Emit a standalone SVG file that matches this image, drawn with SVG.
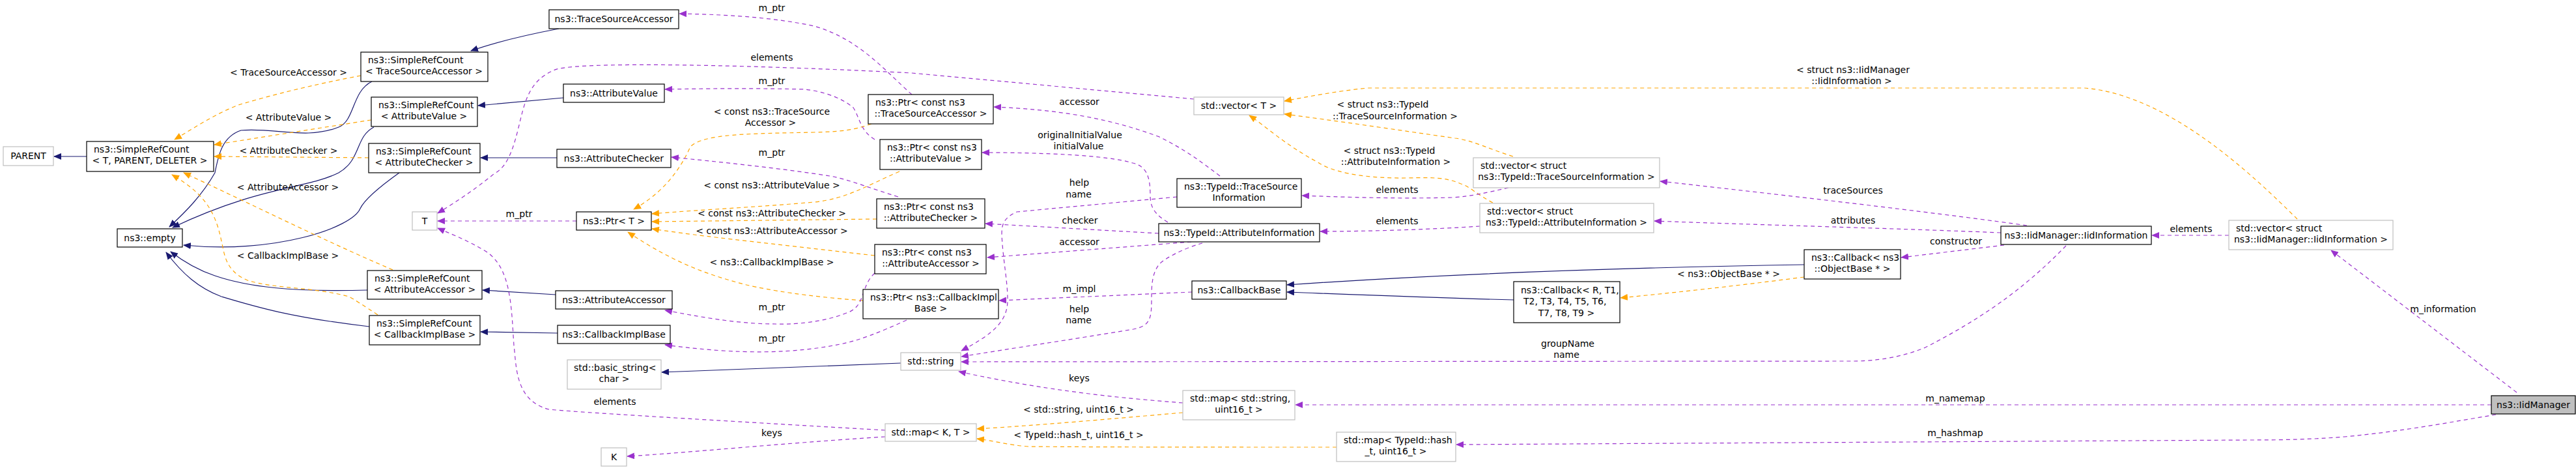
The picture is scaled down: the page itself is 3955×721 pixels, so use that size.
<svg xmlns="http://www.w3.org/2000/svg" width="3955" height="721" viewBox="0 0 3955 721">
<style>
text{font-family:"DejaVu Sans","Liberation Sans",sans-serif;font-size:14px;fill:#000}
.c{text-anchor:middle}
.n rect{fill:#fff;stroke:#000;stroke-width:1.2}
.g rect{fill:#fff;stroke:#bfbfbf;stroke-width:1.2}
.inh{fill:none;stroke:#191970;stroke-width:1.2;marker-end:url(#mb)}
.tpl{fill:none;stroke:#ffa500;stroke-width:1.2;stroke-dasharray:6,5;marker-end:url(#mo)}
.use{fill:none;stroke:#9a32cd;stroke-width:1.2;stroke-dasharray:6,5;marker-end:url(#mp)}
</style>
<defs>
<marker id="mb" markerWidth="12" markerHeight="10" refX="11" refY="5" orient="auto" markerUnits="userSpaceOnUse"><path d="M0,0 L12,5 L0,10 z" fill="#191970"/></marker>
<marker id="mo" markerWidth="12" markerHeight="10" refX="11" refY="5" orient="auto" markerUnits="userSpaceOnUse"><path d="M0,0 L12,5 L0,10 z" fill="#ffa500"/></marker>
<marker id="mp" markerWidth="12" markerHeight="10" refX="11" refY="5" orient="auto" markerUnits="userSpaceOnUse"><path d="M0,0 L12,5 L0,10 z" fill="#9a32cd"/></marker>
</defs>
<rect width="3955" height="721" fill="#fff"/>
<g id="connectors">
<path class="inh" d="M133,240 L83,240"/>
<path class="inh" d="M571,125 C540,140 545,185 520,195 C470,215 420,195 370,200 C340,210 335,240 330,265 C310,300 285,325 260,348"/>
<path class="inh" d="M574,195 C545,210 555,245 520,265 C470,290 400,285 265,349"/>
<path class="inh" d="M613,265 C585,285 560,305 553,320 C540,350 420,390 282,376"/>
<path class="inh" d="M564,445 C446,448 380,440 330,423 C300,413 280,400 262,386"/>
<path class="inh" d="M567,501 C446,487 390,470 340,455 C305,442 280,420 255,387"/>
<path class="inh" d="M858,44 C800,55 760,65 723,78"/>
<path class="inh" d="M865,150 L734,162"/>
<path class="inh" d="M855,242 L738,242"/>
<path class="inh" d="M853,452 L741,445"/>
<path class="inh" d="M856,511 L738,509"/>
<path class="inh" d="M1383,557 L1016,571"/>
<path class="inh" d="M2770,406 C2400,412 2150,425 1976,437"/>
<path class="inh" d="M2324,460 C2200,457 2080,452 1976,448"/>
<path class="tpl" d="M554,116 C480,130 420,145 366,161 C330,175 300,195 268,214"/>
<path class="tpl" d="M570,184 L329,222"/>
<path class="tpl" d="M566,242 L329,240"/>
<path class="tpl" d="M603,414 C500,370 400,320 282,265"/>
<path class="tpl" d="M580,483 C560,470 545,460 536,455 C480,440 420,443 380,430 C345,415 345,390 340,370 C330,320 310,295 264,268"/>
<path class="tpl" d="M1338,190 C1310,200 1290,202 1250,203 C1150,205 1080,205 1060,225 C1040,270 1010,300 973,321"/>
<path class="tpl" d="M1381,263 C1330,285 1300,305 1250,310 C1160,318 1070,322 1001,328"/>
<path class="tpl" d="M1346,336 L1001,340"/>
<path class="tpl" d="M1343,392 C1280,385 1220,378 1150,370 C1080,362 1040,357 1001,351"/>
<path class="tpl" d="M1325,461 C1240,455 1180,445 1146,437 C1080,420 1030,400 964,356"/>
<path class="tpl" d="M2323,240 C2290,230 2260,215 2234,212 C2150,200 2050,185 1972,175"/>
<path class="tpl" d="M2292,311 C2270,300 2255,285 2243,282 C2220,272 2200,272 2160,273 C2080,274 2040,260 2025,250 C1970,220 1945,195 1918,177"/>
<path class="tpl" d="M3527,336 C3460,270 3330,145 3200,135 L2100,135 C2050,140 2010,148 1972,155"/>
<path class="tpl" d="M2770,425 C2670,438 2580,448 2488,457"/>
<path class="tpl" d="M1816,633 C1700,643 1600,652 1500,658"/>
<path class="tpl" d="M2052,686 C1900,686 1700,686 1579,685 C1550,683 1525,676 1500,673"/>
<path class="use" d="M1400,145 C1360,110 1320,60 1250,40 C1180,25 1100,22 1043,21"/>
<path class="use" d="M1833,152 L1400,112 C1100,97 870,95 850,108 C810,125 805,160 795,200 C785,240 775,258 758,267 C730,290 700,310 672,327"/>
<path class="use" d="M1343,214 C1320,200 1320,180 1310,165 C1290,148 1260,140 1236,137 C1150,135 1080,136 1021,137"/>
<path class="use" d="M1379,302 C1340,290 1310,278 1280,271 C1200,258 1100,248 1031,241"/>
<path class="use" d="M885,339 L672,339"/>
<path class="use" d="M1359,660 C1100,645 880,632 843,628 C790,615 793,560 789,530 C785,470 785,410 745,385 C720,370 700,362 672,350"/>
<path class="use" d="M1359,670 C1200,680 1050,695 963,700"/>
<path class="use" d="M1343,419 C1320,440 1330,470 1300,480 C1250,500 1191,497 1191,497 C1130,497 1070,485 1021,476"/>
<path class="use" d="M1392,491 C1350,510 1320,522 1290,528 C1220,542 1140,545 1021,529"/>
<path class="use" d="M1873,270 C1840,245 1820,230 1780,210 C1700,180 1620,168 1526,164"/>
<path class="use" d="M1793,341 C1775,330 1766,320 1766,300 C1766,270 1760,255 1739,250 C1700,238 1600,234 1508,234"/>
<path class="use" d="M1807,302 L1561,325 C1540,335 1538,345 1538,360 C1540,400 1547,430 1547,460 C1547,490 1530,510 1476,538"/>
<path class="use" d="M1779,358 L1513,343"/>
<path class="use" d="M1829,371 L1516,395"/>
<path class="use" d="M1830,448 L1534,461"/>
<path class="use" d="M1846,373 C1820,380 1790,395 1780,405 C1768,420 1768,440 1768,460 C1768,490 1765,500 1740,505 C1650,520 1550,535 1476,547"/>
<path class="use" d="M3172,377 C3120,430 3060,480 2956,533 C2920,548 2880,554 2845,554 L1476,555"/>
<path class="use" d="M1816,618 C1710,610 1600,598 1472,570"/>
<path class="use" d="M3112,346 C3000,330 2800,306 2549,278"/>
<path class="use" d="M3072,357 C2900,350 2700,345 2540,339"/>
<path class="use" d="M3077,376 L2919,395"/>
<path class="use" d="M2316,288 C2280,296 2260,301 2230,303 C2150,305 2080,303 1999,300"/>
<path class="use" d="M2272,347 C2200,352 2100,355 2027,355"/>
<path class="use" d="M3422,361 L3304,361"/>
<path class="use" d="M3864,602 L3579,384"/>
<path class="use" d="M3825,621 L1989,621"/>
<path class="use" d="M3832,636 C3760,648 3686,662 3600,670 C3550,674 3507,675 3450,675 L2236,682"/>
</g>
<g id="labels">
<text class="c" x="443" y="116">&lt; TraceSourceAccessor &gt;</text>
<text class="c" x="443" y="185">&lt; AttributeValue &gt;</text>
<text class="c" x="443" y="236">&lt; AttributeChecker &gt;</text>
<text class="c" x="442" y="292">&lt; AttributeAccessor &gt;</text>
<text class="c" x="442" y="397">&lt; CallbackImplBase &gt;</text>
<text class="c" x="1185" y="17">m_ptr</text>
<text class="c" x="1185" y="93">elements</text>
<text class="c" x="1185" y="129">m_ptr</text>
<text class="c" x="1185" y="176">&lt; const ns3::TraceSource</text>
<text class="c" x="1183" y="193">Accessor &gt;</text>
<text class="c" x="1185" y="239">m_ptr</text>
<text class="c" x="1185" y="289">&lt; const ns3::AttributeValue &gt;</text>
<text class="c" x="797" y="333">m_ptr</text>
<text class="c" x="1185" y="332">&lt; const ns3::AttributeChecker &gt;</text>
<text class="c" x="1185" y="359">&lt; const ns3::AttributeAccessor &gt;</text>
<text class="c" x="1185" y="407">&lt; ns3::CallbackImplBase &gt;</text>
<text class="c" x="1185" y="476">m_ptr</text>
<text class="c" x="1185" y="524">m_ptr</text>
<text class="c" x="944" y="621">elements</text>
<text class="c" x="1185" y="669">keys</text>
<text class="c" x="1657" y="161">accessor</text>
<text class="c" x="1658" y="212">originalInitialValue</text>
<text class="c" x="1656" y="229">initialValue</text>
<text class="c" x="1657" y="285">help</text>
<text class="c" x="1656" y="303">name</text>
<text class="c" x="1658" y="343">checker</text>
<text class="c" x="1657" y="376">accessor</text>
<text class="c" x="1657" y="448">m_impl</text>
<text class="c" x="1657" y="479">help</text>
<text class="c" x="1656" y="496">name</text>
<text class="c" x="1657" y="585">keys</text>
<text class="c" x="1656" y="633">&lt; std::string, uint16_t &gt;</text>
<text class="c" x="1656" y="672">&lt; TypeId::hash_t, uint16_t &gt;</text>
<text class="c" x="2123" y="165">&lt; struct ns3::TypeId</text>
<text class="c" x="2142" y="183">::TraceSourceInformation &gt;</text>
<text class="c" x="2133" y="236">&lt; struct ns3::TypeId</text>
<text class="c" x="2143" y="253">::AttributeInformation &gt;</text>
<text class="c" x="2145" y="296">elements</text>
<text class="c" x="2145" y="344">elements</text>
<text class="c" x="2654" y="425">&lt; ns3::ObjectBase * &gt;</text>
<text class="c" x="2407" y="532">groupName</text>
<text class="c" x="2405" y="549">name</text>
<text class="c" x="2845" y="112">&lt; struct ns3::IidManager</text>
<text class="c" x="2843" y="129">::IidInformation &gt;</text>
<text class="c" x="2845" y="297">traceSources</text>
<text class="c" x="2845" y="343">attributes</text>
<text class="c" x="3003" y="375">constructor</text>
<text class="c" x="3364" y="356">elements</text>
<text class="c" x="3002" y="616">m_namemap</text>
<text class="c" x="3002" y="669">m_hashmap</text>
<text class="c" x="3751" y="479">m_information</text>
</g>
<g id="PARENT" class="g"><rect x="5" y="225" width="77" height="29"/><text class="c" x="43.5" y="244">PARENT</text></g>
<g id="SRC_TPD" class="n"><rect x="133" y="217" width="195" height="46"/><text x="144" y="234">ns3::SimpleRefCount</text><text class="c" x="230" y="251">&lt; T, PARENT, DELETER &gt;</text></g>
<g id="empty" class="n"><rect x="180" y="351" width="100" height="28"/><text class="c" x="230" y="370">ns3::empty</text></g>
<g id="SRC_TSA" class="n"><rect x="554" y="80" width="195" height="45"/><text x="565" y="97">ns3::SimpleRefCount</text><text class="c" x="651" y="114">&lt; TraceSourceAccessor &gt;</text></g>
<g id="SRC_AV" class="n"><rect x="570" y="149" width="163" height="45"/><text x="581" y="166">ns3::SimpleRefCount</text><text class="c" x="651" y="183">&lt; AttributeValue &gt;</text></g>
<g id="SRC_AC" class="n"><rect x="566" y="220" width="171" height="45"/><text x="577" y="237">ns3::SimpleRefCount</text><text class="c" x="651" y="254">&lt; AttributeChecker &gt;</text></g>
<g id="SRC_AA" class="n"><rect x="564" y="415" width="176" height="44"/><text x="575" y="432">ns3::SimpleRefCount</text><text class="c" x="652" y="449">&lt; AttributeAccessor &gt;</text></g>
<g id="SRC_CIB" class="n"><rect x="567" y="484" width="170" height="45"/><text x="578" y="501">ns3::SimpleRefCount</text><text class="c" x="652" y="518">&lt; CallbackImplBase &gt;</text></g>
<g id="T" class="g"><rect x="633" y="325" width="38" height="28"/><text class="c" x="652" y="344">T</text></g>
<g id="TSA" class="n"><rect x="843" y="15" width="199" height="29"/><text class="c" x="942.5" y="34">ns3::TraceSourceAccessor</text></g>
<g id="AV" class="n"><rect x="865" y="129" width="155" height="28"/><text class="c" x="942.5" y="148">ns3::AttributeValue</text></g>
<g id="ACh" class="n"><rect x="855" y="229" width="175" height="28"/><text class="c" x="942.5" y="248">ns3::AttributeChecker</text></g>
<g id="PtrT" class="n"><rect x="885" y="325" width="115" height="28"/><text class="c" x="942.5" y="344">ns3::Ptr&lt; T &gt;</text></g>
<g id="AAcc" class="n"><rect x="853" y="446" width="179" height="28"/><text class="c" x="942.5" y="465">ns3::AttributeAccessor</text></g>
<g id="CIB" class="n"><rect x="856" y="499" width="173" height="28"/><text class="c" x="942.5" y="518">ns3::CallbackImplBase</text></g>
<g id="basic_string" class="g"><rect x="871" y="552" width="144" height="45"/><text x="881" y="569">std::basic_string&lt;</text><text class="c" x="943" y="586">char &gt;</text></g>
<g id="K" class="g"><rect x="923" y="687" width="39" height="28"/><text class="c" x="942.5" y="706">K</text></g>
<g id="PtrTSA" class="n"><rect x="1333" y="145" width="192" height="45"/><text x="1344" y="162">ns3::Ptr&lt; const ns3</text><text class="c" x="1429" y="179">::TraceSourceAccessor &gt;</text></g>
<g id="PtrAV" class="n"><rect x="1351" y="214" width="156" height="46"/><text x="1362" y="231">ns3::Ptr&lt; const ns3</text><text class="c" x="1429" y="248">::AttributeValue &gt;</text></g>
<g id="PtrAC" class="n"><rect x="1346" y="305" width="166" height="45"/><text x="1357" y="322">ns3::Ptr&lt; const ns3</text><text class="c" x="1429" y="339">::AttributeChecker &gt;</text></g>
<g id="PtrAA" class="n"><rect x="1343" y="375" width="171" height="45"/><text x="1354" y="392">ns3::Ptr&lt; const ns3</text><text class="c" x="1429" y="409">::AttributeAccessor &gt;</text></g>
<g id="PtrCIB" class="n"><rect x="1325" y="444" width="208" height="45"/><text x="1336" y="461">ns3::Ptr&lt; ns3::CallbackImpl</text><text class="c" x="1429" y="478">Base &gt;</text></g>
<g id="string" class="g"><rect x="1383" y="541" width="92" height="27"/><text class="c" x="1429" y="559">std::string</text></g>
<g id="mapKT" class="g"><rect x="1359" y="650" width="140" height="27"/><text class="c" x="1429" y="668">std::map&lt; K, T &gt;</text></g>
<g id="vectorT" class="g"><rect x="1833" y="149" width="138" height="27"/><text class="c" x="1902" y="167">std::vector&lt; T &gt;</text></g>
<g id="TSInfo" class="n"><rect x="1807" y="274" width="191" height="44"/><text x="1818" y="291">ns3::TypeId::TraceSource</text><text class="c" x="1902" y="308">Information</text></g>
<g id="AttrInfo" class="n"><rect x="1779" y="343" width="247" height="28"/><text class="c" x="1902.5" y="362">ns3::TypeId::AttributeInformation</text></g>
<g id="CallbackBase" class="n"><rect x="1830" y="431" width="145" height="28"/><text class="c" x="1902.5" y="450">ns3::CallbackBase</text></g>
<g id="mapString" class="g"><rect x="1816" y="599" width="172" height="45"/><text x="1827" y="616">std::map&lt; std::string,</text><text class="c" x="1902" y="633">uint16_t &gt;</text></g>
<g id="mapHash" class="g"><rect x="2052" y="663" width="183" height="45"/><text x="2063" y="680">std::map&lt; TypeId::hash</text><text class="c" x="2143" y="697">_t, uint16_t &gt;</text></g>
<g id="vecTSI" class="g"><rect x="2262" y="242" width="286" height="46"/><text x="2273" y="259">std::vector&lt; struct</text><text class="c" x="2405" y="276">ns3::TypeId::TraceSourceInformation &gt;</text></g>
<g id="vecAI" class="g"><rect x="2272" y="312" width="267" height="45"/><text x="2283" y="329">std::vector&lt; struct</text><text class="c" x="2405" y="346">ns3::TypeId::AttributeInformation &gt;</text></g>
<g id="CallbackR" class="n"><rect x="2324" y="432" width="163" height="63"/><text x="2335" y="450">ns3::Callback&lt; R, T1,</text><text x="2339" y="467">T2, T3, T4, T5, T6,</text><text class="c" x="2405" y="485">T7, T8, T9 &gt;</text></g>
<g id="CallbackOB" class="n"><rect x="2770" y="383" width="148" height="45"/><text x="2781" y="400">ns3::Callback&lt; ns3</text><text class="c" x="2844" y="417">::ObjectBase * &gt;</text></g>
<g id="IidInformation" class="n"><rect x="3072" y="347" width="231" height="28"/><text class="c" x="3187.5" y="366">ns3::IidManager::IidInformation</text></g>
<g id="vecIid" class="g"><rect x="3422" y="338" width="252" height="45"/><text x="3433" y="355">std::vector&lt; struct</text><text class="c" x="3548" y="372">ns3::IidManager::IidInformation &gt;</text></g>
<g id="IidManager"><rect x="3825" y="607" width="129" height="28" fill="#bfbfbf" stroke="#000" stroke-width="1.2"/><text class="c" x="3889.5" y="626">ns3::IidManager</text></g>
</svg>
